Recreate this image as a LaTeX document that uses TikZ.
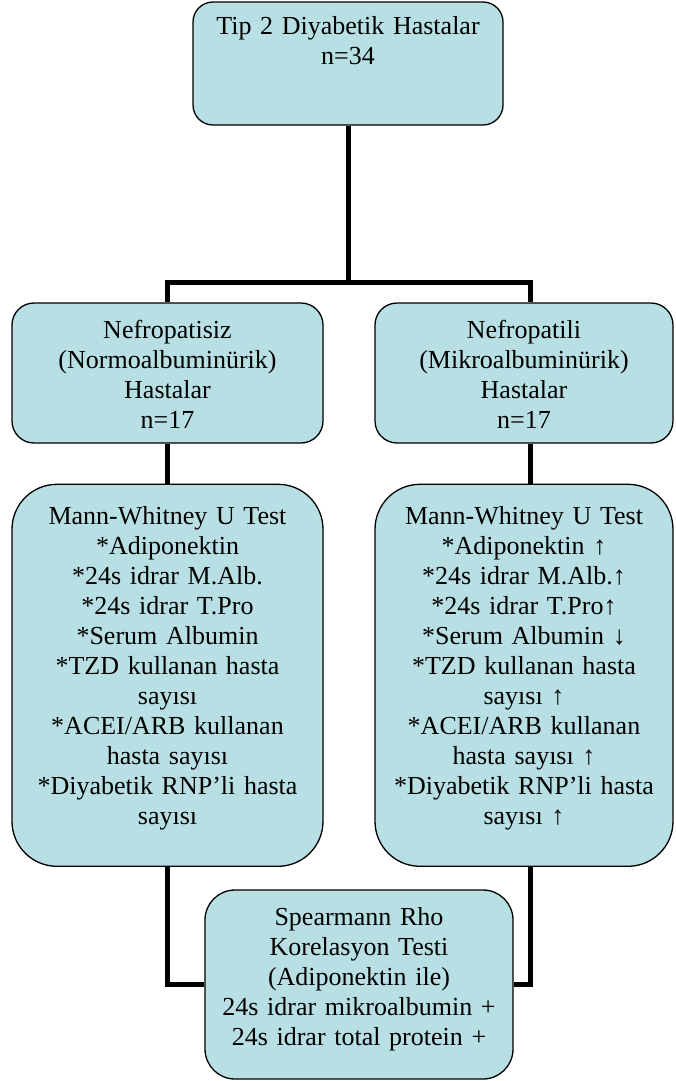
\documentclass[tikz,border=0pt]{standalone}
\usepackage{fontspec}
\setmainfont{Liberation Serif}
\usepackage{tikz}
\usetikzlibrary{positioning}
\definecolor{boxfill}{HTML}{B8DFE3}

\begin{document}
\begin{tikzpicture}[
  x=1pt, y=-1pt,
  node distance=40pt,
  box/.style={draw, line width=1.3pt, fill=boxfill, align=center, font=\fontsize{26}{30}\selectfont, inner xsep=4pt, inner ysep=0pt, text height=19pt},
  sidel/.style={box, minimum width=311pt, text width=303pt},
  sider/.style={box, minimum width=298pt, text width=290pt},
  conn/.style={line width=5pt}
]
\useasboundingbox (0,0) rectangle (676,1081);

\node[box, rounded corners=20pt, minimum width=310pt, minimum height=123pt, text width=302pt, text depth=76pt] (all) at (348,63.5) {Tip 2 Diyabetik Hastalar\\ n=34};

\node[sidel, rounded corners=22pt, minimum height=140pt, text depth=89pt] (nonneph) at (167.5,373) {Nefropatisiz\\ (Normoalbuminürik)\\ Hastalar\\ n=17};
\node[sider, rounded corners=22pt, minimum height=140pt, text depth=89pt] (neph) at (524,373) {Nefropatili\\ (Mikroalbuminürik)\\ Hastalar\\ n=17};

\node[sidel, rounded corners=45pt, minimum height=382pt, text depth=321pt, below=of nonneph] (mwnon) {Mann-Whitney U Test\\ {*}Adiponektin\\ {*}24s idrar M.Alb.\\ {*}24s idrar T.Pro\\ {*}Serum Albumin\\ {*}TZD kullanan hasta\\ sayısı\\ {*}ACEI/ARB kullanan\\ hasta sayısı\\ {*}Diyabetik RNP’li hasta\\ sayısı};
\node[sider, rounded corners=45pt, minimum height=382pt, text depth=321pt, below=of neph] (mwneph) {Mann-Whitney U Test\\ {*}Adiponektin ↑\\ {*}24s idrar M.Alb.↑\\ {*}24s idrar T.Pro↑\\ {*}Serum Albumin ↓\\ {*}TZD kullanan hasta\\ sayısı ↑\\ {*}ACEI/ARB kullanan\\ hasta sayısı ↑\\ {*}Diyabetik RNP’li hasta\\ sayısı ↑};

\node[box, rounded corners=30pt, minimum width=308pt, minimum height=189pt, text width=300pt, text depth=138pt] (spear) at (359,984.5) {Spearmann Rho\\ Korelasyon Testi\\ (Adiponektin ile)\\ 24s idrar mikroalbumin +\\ 24s idrar total protein +};

\coordinate (split) at (348,282);
\draw[conn] (all) -- (split);
\draw[conn] (nonneph.north) |- (split) -| ([xshift=6pt]neph.north);
\draw[conn] (nonneph) -- (mwnon);
\draw[conn] ([xshift=6pt]neph.south) -- ([xshift=6pt]mwneph.north);
\draw[conn] (spear.west) -| (mwnon.south);
\draw[conn] (spear.east) -| ([xshift=6pt]mwneph.south);
\end{tikzpicture}
\end{document}
